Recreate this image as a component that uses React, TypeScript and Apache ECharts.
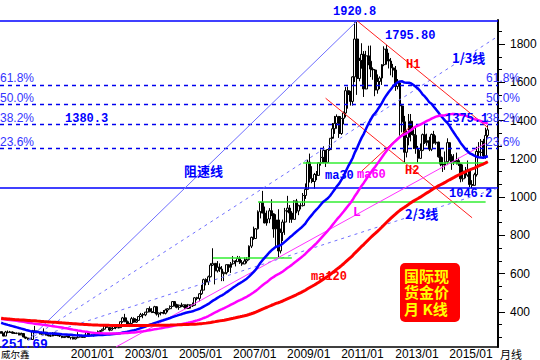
import React, { useEffect, useRef } from 'react';
import * as echarts from 'echarts';

// monthly closes used only as history for the moving averages (1988/08 - 1998/06)
const closesBefore = [
  430, 397, 412, 422, 410,
  394, 388, 385, 378, 361, 372, 368, 359, 366, 375, 408, 401,
  415, 416, 368, 367, 363, 352, 363, 387, 408, 380, 384, 386,
  366, 363, 356, 357, 361, 367, 362, 347, 354, 358, 366, 353,
  354, 353, 344, 337, 337, 343, 357, 340, 349, 339, 334, 333,
  330, 328, 337, 355, 377, 378, 401, 372, 355, 370, 370, 391,
  378, 381, 389, 376, 387, 385, 384, 385, 394, 383, 383, 383,
  375, 376, 392, 389, 385, 387, 383, 382, 384, 382, 387, 387,
  405, 400, 396, 392, 390, 382, 385, 387, 379, 379, 371, 369,
  345, 358, 349, 340, 345, 334, 326, 325, 332, 311, 296, 290,
  303, 297, 301, 309, 293, 296,
];

// plotted months 1998/07 - 2016/07
const closes = [
  288, 273, 294, 292, 294, 288,
  287, 288, 279, 286, 268, 262, 255, 255, 300, 299, 292, 290,
  283, 293, 278, 274, 273, 289, 276, 278, 273, 265, 270, 273,
  265, 267, 258, 264, 267, 270, 266, 273, 293, 279, 276, 277,
  282, 297, 301, 309, 326, 318, 304, 312, 324, 316, 317, 348,
  368, 348, 335, 339, 364, 346, 355, 375, 385, 384, 398, 416,
  400, 396, 426, 388, 394, 396, 392, 409, 416, 428, 453, 438,
  423, 434, 428, 436, 417, 436, 430, 434, 473, 470, 494, 513,
  568, 556, 583, 644, 653, 614, 633, 623, 599, 604, 646, 632,
  651, 665, 662, 679, 656, 650, 665, 673, 743, 789, 783, 834,
  923, 972, 916, 864, 885, 928, 912, 833, 880, 718, 815, 869,
  928, 942, 916, 883, 979, 927, 954, 955, 1008, 1040, 1182, 1096,
  1081, 1118, 1113, 1179, 1207, 1244, 1181, 1248, 1307, 1357, 1385, 1421,
  1332, 1411, 1439, 1556, 1536, 1500, 1628, 1826, 1620, 1714, 1746, 1565,
  1738, 1710, 1669, 1664, 1560, 1604, 1622, 1692, 1773, 1719, 1711, 1675,
  1664, 1578, 1596, 1476, 1393, 1234, 1312, 1396, 1327, 1323, 1253, 1202,
  1244, 1326, 1284, 1295, 1250, 1327, 1282, 1287, 1210, 1172, 1167, 1184,
  1284, 1213, 1183, 1184, 1190, 1172, 1095, 1135, 1115, 1142, 1065, 1061,
  1117, 1238, 1233, 1291, 1215, 1322, 1351,
];
const highs = [
  297, 289, 300, 302, 300, 297,
  293, 291, 291, 291, 289, 268, 265, 260, 305, 326, 301, 294,
  293, 313, 295, 288, 282, 293, 292, 281, 279, 274, 272, 275,
  273, 268, 270, 266, 293, 280, 272, 280, 294, 294, 281, 281,
  283, 302, 304, 311, 328, 330, 318, 318, 327, 325, 323, 350,
  373, 389, 354, 341, 373, 371, 362, 375, 394, 393, 399, 417,
  428, 419, 431, 429, 395, 400, 409, 416, 418, 433, 456, 456,
  442, 438, 447, 437, 436, 441, 436, 448, 476, 478, 497, 540,
  573, 575, 589, 654, 732, 653, 665, 653, 639, 610, 647, 646,
  660, 691, 670, 692, 690, 670, 684, 686, 747, 793, 845, 838,
  930, 975, 1032, 950, 929, 942, 988, 915, 910, 936, 835, 882,
  943, 1006, 958, 926, 982, 990, 960, 968, 1021, 1071, 1195, 1227,
  1161, 1126, 1136, 1180, 1249, 1265, 1244, 1251, 1307, 1387, 1424, 1432,
  1424, 1411, 1447, 1575, 1577, 1555, 1632, 1913, 1920.8, 1728, 1804, 1763,
  1764, 1791, 1792, 1678, 1669, 1641, 1631, 1695, 1788, 1795.8, 1754, 1727,
  1696, 1685, 1617, 1606, 1487, 1424, 1348, 1434, 1434, 1361, 1361, 1267,
  1280, 1332, 1392, 1331, 1315, 1332, 1346, 1322, 1289, 1255, 1208, 1238,
  1307, 1283, 1224, 1224, 1232, 1205, 1175, 1170, 1157, 1191, 1143, 1088,
  1127, 1263, 1287, 1303, 1304, 1362, 1375.1,
];
const lows = [
  286, 272, 273, 287, 290, 285,
  284, 283, 277, 278, 267, 257, 251.69, 252, 254, 296, 288, 281,
  281, 282, 276, 272, 269, 272, 275, 272, 268, 262, 263, 267,
  263, 255, 255, 255, 263, 265, 265, 265, 270, 277, 272, 271,
  276, 280, 288, 298, 307, 316, 298, 302, 310, 309, 314, 316,
  343, 345, 325, 320, 338, 342, 342, 353, 372, 366, 377, 397,
  398, 393, 392, 380, 371, 381, 387, 386, 397, 412, 426, 427,
  418, 410, 424, 422, 414, 414, 417, 425, 432, 460, 455, 488,
  513, 538, 540, 580, 639, 543, 605, 608, 560, 560, 595, 608,
  603, 646, 637, 662, 650, 640, 649, 653, 668, 733, 776, 780,
  830, 888, 920, 863, 850, 863, 900, 787, 738, 681, 705, 770,
  802, 920, 865, 865, 883, 915, 905, 935, 950, 990, 1040, 1076,
  1072, 1044, 1088, 1112, 1164, 1176, 1157, 1177, 1242, 1315, 1330, 1357,
  1309, 1325, 1380, 1416, 1462, 1478, 1478, 1601, 1534, 1605, 1671, 1523,
  1563, 1689, 1627, 1613, 1527, 1540, 1564, 1586, 1684, 1692, 1672, 1636,
  1626, 1555, 1563, 1321, 1338, 1180, 1207, 1270, 1291, 1251, 1226, 1180,
  1202, 1240, 1277, 1268, 1240, 1240, 1280, 1273, 1206, 1161, 1131, 1142,
  1167, 1190, 1142, 1167, 1170, 1162, 1077, 1080, 1098, 1106, 1052, 1046.2,
  1061, 1107, 1208, 1212, 1200, 1200, 1310,
];

const yLabels = [400, 600, 800, 1000, 1200, 1400, 1600, 1800];
const maPeriods = [30, 60, 120];
const maNames = ['ma30', 'ma60', 'ma120'];

// key points
const troughMonth = '1999/07', troughValue = 251.69;
const peakMonth = '2011/09', peakValue = 1920.8;
const high2Month = '2012/10', high2Value = 1795.8;
const low2013Month = '2013/06', low2013Value = 1180;
const bottomValue = 1046.2;
const fibRatios = [0.236, 0.382, 0.5, 0.618];
const fibLabels = ['23.6%', '38.2%', '50.0%', '61.8%'];
// green support lines [startMonth, endMonth, value]
const greenLines: [string, string, number][] = [
  ['2006/05', '2009/04', 681],
  ['2009/09', '2016/06', 1180],
  ['2008/01', '2016/06', 976],
];
// L support line endpoints
const lLine: [string, number, string, number] = ['2002/10', 216, '2016/06', 1280];
// short red trend segment crossing H2
const redCross: [string, number, string, number] = ['2011/11', 1135, '2013/08', 1362];

const months: string[] = [];
for (let i = 0; i < 221; i++) {
  const t = 6 + i;
  const y = 1998 + Math.floor(t / 12);
  const m = (t % 12) + 1;
  months.push(`${y}/${m < 10 ? '0' + m : m}`);
}

export default function App() {
  const ref = useRef<HTMLDivElement>(null);
  useEffect(() => {
    if (!ref.current) return;
    const chart = echarts.init(ref.current, undefined, { renderer: 'svg' });
    const full = [...closesBefore, ...closes];
    const off = closesBefore.length;
    const ma = (n: number) =>
      closes.map((_, i) => {
        let s = 0;
        for (let k = off + i - n + 1; k <= off + i; k++) s += full[k];
        return +(s / n).toFixed(2);
      });
    const candle = closes.map((c, i) => [i === 0 ? closesBefore[off - 1] : closes[i - 1], c, lows[i], highs[i]]);
    const ix = (m: string) => months.indexOf(m);
    const lastIdx = months.length - 1;
    const it = ix(troughMonth), ip = ix(peakMonth);
    const range = peakValue - troughValue;
    const lineAt = (i1: number, v1: number, i2: number, v2: number, i: number) => v1 + ((v2 - v1) * (i - i1)) / (i2 - i1);
    const third1 = peakValue - range / 3;
    const third2 = peakValue - (2 * range) / 3;
    const seg = (i1: number, v1: number, i2: number, v2: number, style: any) => [
      { coord: [i1, v1], lineStyle: style },
      { coord: [i2, v2] },
    ];
    const fanStyle = { color: '#6f6fff', width: 1, type: 'solid' };
    const fanDash = { color: '#6f6fff', width: 1, type: [3, 4] };
    const redThin = { color: '#ff2020', width: 1, type: 'solid' };
    const greenStyle = { color: '#33ee33', width: 1.5, type: 'solid' };
    const ih2 = ix(high2Month);
    const h1Slope = (high2Value - peakValue) / (ih2 - ip);
    const il = ix(low2013Month);
    const h1End = ix('2016/07');
    const h2Start = ix('2010/07'), h2End = ix('2015/12');

    const markData: any[] = [
      { yAxis: peakValue, lineStyle: { color: '#0000ff', width: 1.5, type: 'solid' } },
      { yAxis: bottomValue, lineStyle: { color: '#0000ff', width: 1.5, type: 'solid' } },
      ...fibRatios.map((r) => ({
        yAxis: bottomValue + r * (peakValue - bottomValue),
        lineStyle: { color: '#0000ee', width: 1.3, type: [4, 4] },
      })),
      seg(it, troughValue, ip, peakValue, fanStyle),
      seg(it, troughValue, lastIdx, lineAt(it, troughValue, ip, third1, lastIdx), fanDash),
      seg(it, troughValue, lastIdx, lineAt(it, troughValue, ip, third2, lastIdx), fanDash),
      seg(ip, peakValue, h1End, peakValue + h1Slope * (h1End - ip), redThin),
      seg(h2Start, low2013Value + h1Slope * (h2Start - il), h2End, low2013Value + h1Slope * (h2End - il), redThin),
      seg(ix(redCross[0]), redCross[1], ix(redCross[2]), redCross[3], redThin),
      ...greenLines.map(([a, b, v]) => seg(ix(a), v, ix(b), v, greenStyle)),
      seg(ix(lLine[0]), lLine[1], ix(lLine[2]), lLine[3], { color: '#ff33ff', width: 1, type: 'solid' }),
    ];

    const minor: number[] = [];
    for (let k = 0; k < 30; k++) {
      const v = 200 + (k * 200) / 3;
      if (k % 3 !== 0 && v > 216 && v < 1925) minor.push(+v.toFixed(2));
    }

    const blueBold = 'bold 12px "Liberation Mono", monospace';
    const T = (x: number, y: number, text: string, fill: string, font: string) => ({
      type: 'text', x, y, z: 100,
      style: { text, fill, font, verticalAlign: 'middle' },
    });
    const fibFont = '12px "Liberation Sans", Arial, sans-serif';
    const fibColor = '#3434ff';
    const fibY = [142, 118, 98, 78];
    const graphic: any[] = [
      T(333, 12, '1920.8', '#0000ff', blueBold),
      T(385, 36, '1795.80', '#0000ff', blueBold),
      T(452, 57, '1/3线', '#0000ff', 'bold 13px "Noto Sans CJK SC", sans-serif'),
      T(406, 65, 'H1', '#ff0000', blueBold),
      ...fibLabels.map((t, k) => T(0, fibY[k], t, fibColor, fibFont)),
      T(65, 119, '1380.3', '#0000ff', blueBold),
      T(445, 119, '1375.1', '#0000ff', blueBold),
      ...fibLabels.map((t, k) => T(486, fibY[k], t, fibColor, fibFont)),
      T(184, 170, '阻速线', '#0000ff', 'bold 13px "Noto Sans CJK SC", sans-serif'),
      T(325, 176, 'ma30', '#0000ff', blueBold),
      T(357, 175, 'ma60', '#ff00ff', blueBold),
      T(405, 171, 'H2', '#ff0000', blueBold),
      T(449, 194, '1046.2', '#0000ff', blueBold),
      T(353, 212, 'L', '#ff00ff', 'bold 13px "Liberation Mono", monospace'),
      T(405, 213, '2/3线', '#0000ff', 'bold 13px "Noto Sans CJK SC", sans-serif'),
      T(311, 277, 'ma120', '#ff0000', blueBold),
      T(1, 344, '251.69', '#0000ff', 'bold 13px "Liberation Mono", monospace'),
      T(1, 354, '威尔鑫', '#000000', '9.5px "Noto Sans CJK SC", sans-serif'),
      T(500, 354, '月线', '#000000', '11px "Noto Sans CJK SC", sans-serif'),
      {
        type: 'rect', z: 100,
        shape: { x: 400, y: 263, width: 60, height: 59, r: 5 },
        style: { fill: '#ff0000' },
      },
      {
        type: 'text', z: 101, x: 404, y: 267,
        style: {
          text: '国际现\n货金价\n月 K线',
          fill: '#ffff00',
          font: 'bold 15px "Noto Sans CJK SC", sans-serif',
          lineHeight: 16.5,
        },
      },
    ];

    const oddJan = (_: number, v: string) => {
      const y = parseInt(v, 10);
      return v.endsWith('/01') && y >= 2001 && y % 2 === 1;
    };

    chart.setOption({
      animation: false,
      backgroundColor: '#ffffff',
      grid: { left: 0, right: 42, top: 20, bottom: 13, containLabel: false },
      xAxis: {
        type: 'category',
        data: months,
        boundaryGap: true,
        axisLine: { lineStyle: { color: '#000', width: 1.5 } },
        axisTick: { interval: oddJan, length: 13, alignWithLabel: true, lineStyle: { color: '#000', width: 1 } },
        axisLabel: {
          interval: oddJan,
          align: 'left',
          margin: 1,
          padding: [0, 0, 0, 2],
          color: '#000',
          fontSize: 12,
          fontFamily: '"Liberation Sans", Arial, sans-serif',
        },
        splitLine: { show: false },
      },
      yAxis: [
        {
          type: 'value',
          position: 'right',
          min: 215.7,
          max: 1925.5,
          axisLine: { show: true, lineStyle: { color: '#000', width: 2 } },
          axisTick: { show: true, length: 7, customValues: yLabels, lineStyle: { color: '#000' } },
          axisLabel: {
            customValues: yLabels,
            formatter: (v: number) => String(v),
            margin: 12,
            color: '#000',
            fontSize: 12,
            fontFamily: '"Liberation Sans", Arial, sans-serif',
          },
          splitLine: { show: false },
        },
        {
          type: 'value',
          position: 'right',
          min: 215.7,
          max: 1925.5,
          axisLine: { show: false },
          axisTick: { show: true, length: 4, customValues: minor, lineStyle: { color: '#000' } },
          axisLabel: { show: false },
          splitLine: { show: false },
        },
      ],
      series: [
        {
          type: 'candlestick',
          data: candle,
          barWidth: 2.4,
          itemStyle: { color: '#ffffff', color0: '#000000', borderColor: '#000000', borderColor0: '#000000', borderWidth: 1 },
          markLine: { silent: true, symbol: ['none', 'none'], label: { show: false }, data: markData, z: 3 },
          z: 2,
        },
        ...maPeriods.map((p, k) => ({
          type: 'line',
          name: maNames[k],
          data: ma(p),
          showSymbol: false,
          lineStyle: { color: ['#0000ff', '#ff00ff', '#ff0000'][k], width: k === 2 ? 3 : 2.5 },
          z: 4,
        })),
      ],
      graphic,
    });
    return () => chart.dispose();
  }, []);
  return <div ref={ref} style={{ position: 'fixed', left: 0, top: 0, width: 540, height: 360 }} />;
}
